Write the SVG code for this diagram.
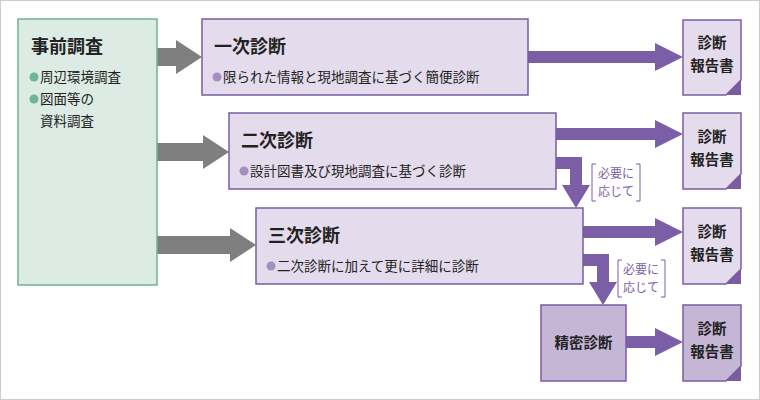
<svg xmlns="http://www.w3.org/2000/svg" width="760" height="400" viewBox="0 0 760 400">
<style>
text{font-family:"Noto Sans CJK JP","Noto Sans",sans-serif;fill:#222}
.t{font-size:18px;font-weight:bold}
.s{font-size:13.5px}
.box{fill:#e4dcec;stroke:#7a5da0;stroke-width:1.5}
.doc{fill:#e4dcec;stroke:#7a5da0;stroke-width:1.5}
.fold{fill:#7a5da0}
.ga{fill:#7f7f7f}
.pa{fill:#7b5ea5}
.lb{font-size:12px;fill:#7b5ea5}
.br{fill:none;stroke:#7b5ea5;stroke-width:1}
.r{font-size:14.5px;font-weight:bold}
</style>
<rect x="0.5" y="0.5" width="759" height="399" fill="#fff" stroke="#ccc"/>
<g id="connectors">
<polygon class="ga" points="157,48 176,48 176,40 202,57 176,74 176,66 157,66"/>
<polygon class="ga" points="157,143 203,143 203,135 229,152 203,169 203,161 157,161"/>
<polygon class="ga" points="157,236 230,236 230,228 256,245 230,262 230,254 157,254"/>
<polygon class="pa" points="528,51 655,51 655,43 683,57 655,71 655,63 528,63"/>
<polygon class="pa" points="556,128 655,128 655,120 683,134 655,148 655,140 556,140"/>
<polygon class="pa" points="583,226 655,226 655,218 683,232 655,246 655,238 583,238"/>
<polygon class="pa" points="626,336 655,336 655,328 683,342 655,356 655,348 626,348"/>
<polygon class="pa" points="556,157 582,157 582,185 590,185 576,208 562,185 570,185 570,169 556,169"/>
<polygon class="pa" points="583,254 609,254 609,282 617,282 603,305 589,282 597,282 597,266 583,266"/>
<path class="br" d="M596,164 h-4 v37 h4 M636,164 h4 v37 h-4"/>
<text class="lb" x="616" y="178" text-anchor="middle">必要に</text>
<text class="lb" x="616" y="196" text-anchor="middle">応じて</text>
<path class="br" d="M622,260 h-4 v37 h4 M661,260 h4 v37 h-4"/>
<text class="lb" x="641" y="274" text-anchor="middle">必要に</text>
<text class="lb" x="641" y="292" text-anchor="middle">応じて</text>
</g>
<g id="pre">
<rect x="18" y="19" width="139" height="266" fill="#dcebe3" stroke="#6db597" stroke-width="1.5"/>
<text class="t" x="31" y="53">事前調査</text>
<circle cx="34" cy="77" r="4.5" fill="#6db597"/>
<text class="s" x="40" y="82">周辺環境調査</text>
<circle cx="34" cy="99" r="4.5" fill="#6db597"/>
<text class="s" x="40" y="104">図面等の</text>
<text class="s" x="40" y="126">資料調査</text>
</g>
<g id="d1">
<rect class="box" x="202" y="19" width="326" height="76"/>
<text class="t" x="214" y="53">一次診断</text>
<circle cx="217" cy="77" r="4.5" fill="#a48fc0"/>
<text class="s" x="223" y="82">限られた情報と現地調査に基づく簡便診断</text>
</g>
<g id="d2">
<rect class="box" x="229" y="113" width="327" height="76"/>
<text class="t" x="241" y="147">二次診断</text>
<circle cx="244" cy="171" r="4.5" fill="#a48fc0"/>
<text class="s" x="250" y="176">設計図書及び現地調査に基づく診断</text>
</g>
<g id="d3">
<rect class="box" x="256" y="208" width="327" height="76"/>
<text class="t" x="268" y="242">三次診断</text>
<circle cx="271" cy="266" r="4.5" fill="#a48fc0"/>
<text class="s" x="277" y="271">二次診断に加えて更に詳細に診断</text>
</g>
<g id="d4">
<rect x="541" y="305" width="85" height="76" fill="#c6b6d6" stroke="#7a5da0" stroke-width="1.5"/>
<text class="r" x="583.5" y="348" text-anchor="middle">精密診断</text>
</g>
<g id="r1">
<path class="doc" d="M683,20 h58 v60 l-15,15 h-43 z"/><path class="fold" d="M741,80 v15 h-15 z"/>
<text class="r" x="712" y="48" text-anchor="middle">診断</text><text class="r" x="712" y="71" text-anchor="middle">報告書</text>
</g>
<g id="r2">
<path class="doc" d="M683,113 h58 v61 l-15,15 h-43 z"/><path class="fold" d="M741,174 v15 h-15 z"/>
<text class="r" x="712" y="142" text-anchor="middle">診断</text><text class="r" x="712" y="165" text-anchor="middle">報告書</text>
</g>
<g id="r3">
<path class="doc" d="M683,208 h58 v61 l-15,15 h-43 z"/><path class="fold" d="M741,269 v15 h-15 z"/>
<text class="r" x="712" y="237" text-anchor="middle">診断</text><text class="r" x="712" y="260" text-anchor="middle">報告書</text>
</g>
<g id="r4">
<path d="M683,305 h58 v61 l-15,15 h-43 z" fill="#c6b6d6" stroke="#7a5da0" stroke-width="1.5"/><path class="fold" d="M741,366 v15 h-15 z"/>
<text class="r" x="712" y="334" text-anchor="middle">診断</text><text class="r" x="712" y="357" text-anchor="middle">報告書</text>
</g>
</svg>
